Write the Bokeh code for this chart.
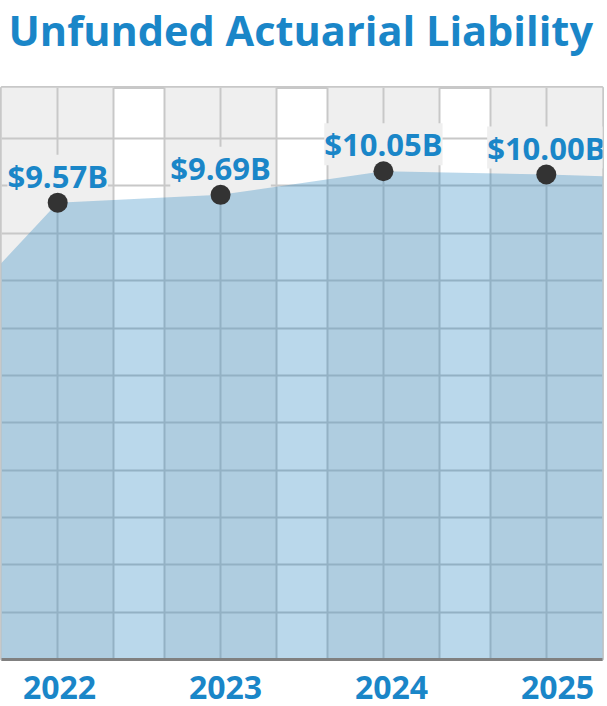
from bokeh.plotting import figure
from bokeh.models import Range1d, FixedTicker, Grid, LinearAxis
from bokeh.core.properties import value
from bokeh.embed import file_html
from bokeh.resources import INLINE

# ---- data ----
years = [2022, 2023, 2024, 2025]
liability_billions = [9.57, 9.69, 10.05, 10.00]
tick_labels = ["2022", "2023", "2024", "2025"]
value_labels = ["$9.57B", "$9.69B", "$10.05B", "$10.00B"]
title_text = "Unfunded Actuarial Liability"

# outline of the shaded area as drawn; it runs past both edges of the frame
area_years = [2021, 2022, 2023, 2024, 2025, 2026]
area_values = [6.9, 9.57, 9.69, 10.05, 10.00, 9.93]

# ---- styling / layout ----
BLUE = "#1a86c8"
GRID = "#c8c8c8"
BAND = "#efefef"
band_half = 0.345
x_lo, x_hi = years[0] - band_half, years[-1] + band_half
y_lo, y_hi = 2.59, 11.33
rows = 12
grid_top = 11.273

p = figure(width=607, height=755,
           x_range=Range1d(x_lo, x_hi), y_range=Range1d(y_lo, y_hi),
           x_axis_location=None, y_axis_location=None,
           toolbar_location=None, output_backend="svg",
           min_border_left=1, min_border_right=5,
           min_border_top=0, min_border_bottom=65)
p.styles = {"margin-top": "-31px", "margin-bottom": "-30px"}
p.background_fill_color = "white"
p.border_fill_color = "white"
p.outline_line_color = GRID
p.outline_line_width = 3
p.grid.visible = False  # no default grids; custom ones are added below

# title
p.title.text = title_text
p.title.text_font = "Open Sans"
p.title.text_font_style = "bold"
p.title.text_font_size = "41.5px"
p.title.text_color = BLUE
p.title.align = "left"
p.title.offset = 7
p.title.standoff = 60

# grey column bands behind the grid
p.quad(left=[y - band_half for y in years], right=[y + band_half for y in years],
       bottom=y_lo, top=y_hi, fill_color=BAND, line_color=None, level="image")

# grid
xticks = []
for y in years:
    xticks += [y - band_half, y, y + band_half]
step = (grid_top - y_lo) / rows
yticks = [y_lo + k * step for k in range(1, rows)]
p.add_layout(Grid(dimension=0, ticker=FixedTicker(ticks=xticks, minor_ticks=[]),
                  grid_line_color=GRID, grid_line_width=2), "center")
p.add_layout(Grid(dimension=1, ticker=FixedTicker(ticks=yticks, minor_ticks=[]),
                  grid_line_color=GRID, grid_line_width=2), "center")

# value labels (their grey backing hides the grid lines behind the text)
p.text(x=years, y=liability_billions, text=value_labels,
       text_align="center", text_baseline="alphabetic", y_offset=-27,
       text_font=value("Open Sans"), text_font_style="bold",
       text_font_size="31px", text_color=BLUE,
       background_fill_color=BAND)

# shaded area
p.varea(x=area_years, y1=0, y2=area_values, fill_color="#197dbc", fill_alpha=0.3)

# points
p.scatter(years, liability_billions, size=20, color="#333333", line_color=None)

# x axis with year labels
p.extra_x_ranges = {"labels": Range1d(2021.6506, 2025.2711)}
ax = LinearAxis(x_range_name="labels", ticker=FixedTicker(ticks=years, minor_ticks=[]),
                major_label_overrides={y: s for y, s in zip(years, tick_labels)})
ax.axis_line_color = "#808080"
ax.axis_line_width = 3
ax.major_tick_line_color = None
ax.minor_tick_line_color = None
ax.major_tick_out = 0
ax.major_tick_in = 0
ax.major_label_standoff = 16
ax.major_label_text_font = "Open Sans"
ax.major_label_text_font_style = "bold"
ax.major_label_text_font_size = "32px"
ax.major_label_text_color = BLUE
p.add_layout(ax, "below")

open("out.html", "w").write(file_html(p, INLINE))
